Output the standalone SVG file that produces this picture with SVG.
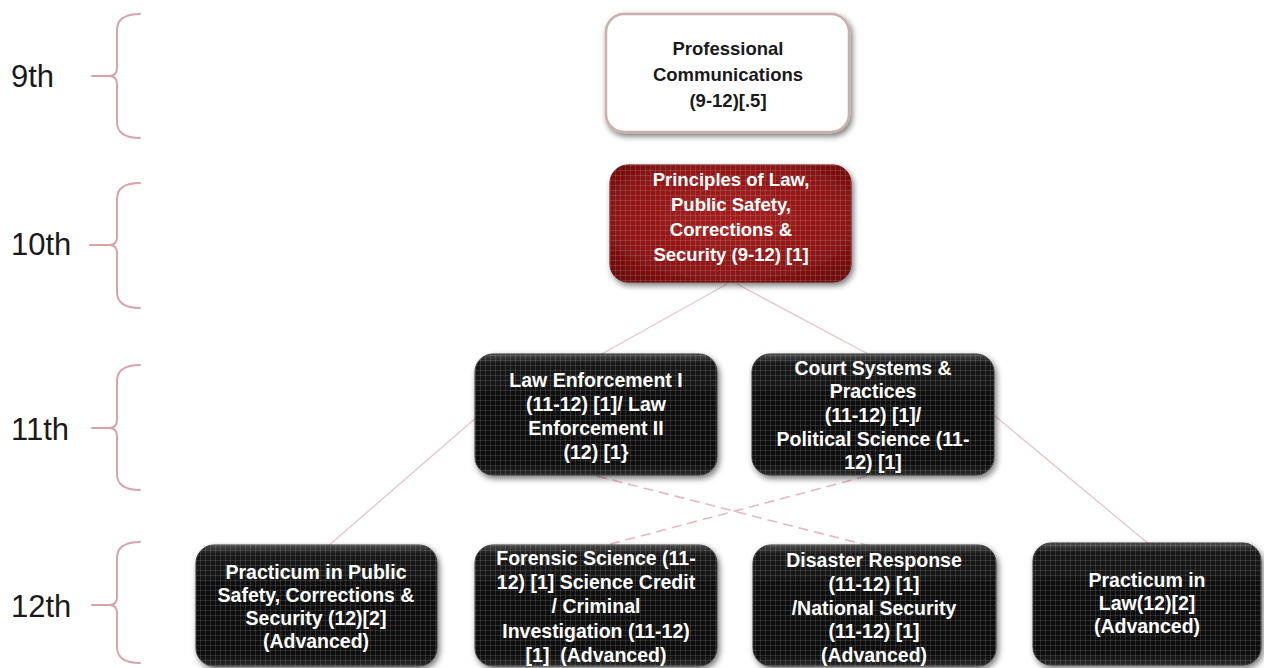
<svg xmlns="http://www.w3.org/2000/svg" width="1264" height="668" viewBox="0 0 1264 668">
<style>
.brace{fill:none;stroke:#d9a3aa;stroke-width:2;stroke-linecap:round;stroke-linejoin:round}
.grade{font-family:"Liberation Sans",Arial,sans-serif;font-size:31px;fill:#1a1a1a}
.conn{fill:none;stroke:#e4c9cc;stroke-width:1.4}
.dash{fill:none;stroke:#e6b8c0;stroke-width:1.6;stroke-dasharray:10 6}
.t{font-family:"Liberation Sans",Arial,sans-serif;font-weight:bold;text-anchor:middle;fill:#ffffff}
.tk{fill:#1a1a1a}
.dark{fill:url(#dg);stroke:#3a3a3a;stroke-width:1}
.tex{fill:url(#tex)}
</style>
<defs>
<filter id="sh" x="-10%" y="-10%" width="125%" height="130%">
<feGaussianBlur in="SourceAlpha" stdDeviation="3"/>
<feOffset dx="2" dy="3" result="b"/>
<feComponentTransfer><feFuncA type="linear" slope="0.55"/></feComponentTransfer>
<feMerge><feMergeNode/><feMergeNode in="SourceGraphic"/></feMerge>
</filter>
<linearGradient id="dg" x1="0" y1="0" x2="0" y2="1">
<stop offset="0" stop-color="#4a4a4a"/>
<stop offset="0.08" stop-color="#141414"/>
<stop offset="0.9" stop-color="#0a0a0a"/>
<stop offset="1" stop-color="#2a2a2a"/>
</linearGradient>
<radialGradient id="rg" cx="0.5" cy="0.45" r="0.65">
<stop offset="0" stop-color="#a31f1f"/>
<stop offset="0.7" stop-color="#8e1616"/>
<stop offset="1" stop-color="#6e0c0c"/>
</radialGradient>
<pattern id="tex" width="5" height="5" patternUnits="userSpaceOnUse">
<path d="M0 0.5H5M0.5 0V5" stroke="#ffffff" stroke-opacity="0.12" stroke-width="1"/>
</pattern>
</defs>

<g id="grades">
<text class="grade" x="11" y="87">9th</text>
<text class="grade" x="11" y="255">10th</text>
<text class="grade" x="11" y="440">11th</text>
<text class="grade" x="11" y="617">12th</text>
<path class="brace" d="M140 14 Q117 14 117 30 L117 68 Q117 76 109 76 L92 76 M109 76 Q117 76 117 84 L117 122 Q117 138 140 138"/>
<path class="brace" d="M140 183 Q117 183 117 199 L117 237 Q117 245 109 245 L90 245 M109 245 Q117 245 117 253 L117 292 Q117 308 140 308"/>
<path class="brace" d="M140 365 Q117 365 117 381 L117 420 Q117 428 109 428 L92 428 M109 428 Q117 428 117 436 L117 474 Q117 490 140 490"/>
<path class="brace" d="M140 542 Q117 542 117 558 L117 597 Q117 605 109 605 L92 605 M109 605 Q117 605 117 613 L117 647 Q117 663 140 663"/>
</g>

<g id="connectors">
<line class="conn" x1="727" y1="284" x2="600" y2="355"/>
<line class="conn" x1="737" y1="284" x2="870" y2="355"/>
<line class="conn" x1="478" y1="416" x2="327" y2="547"/>
<line class="conn" x1="995" y1="416" x2="1150" y2="545"/>
<line class="dash" x1="597" y1="476" x2="870" y2="546"/>
<line class="dash" x1="867" y1="476" x2="603" y2="546"/>
</g>

<g id="node-prof-comm">
<rect x="606" y="14" width="243" height="118" rx="18" fill="#ffffff" stroke="#c9aeb0" stroke-width="2.5" filter="url(#sh)"/>
<text class="t tk" font-size="18.5"><tspan x="728" y="55">Professional</tspan><tspan x="728" y="81">Communications</tspan><tspan x="728" y="107">(9-12)[.5]</tspan></text>
</g>

<g id="node-principles">
<rect x="610" y="165" width="241" height="117" rx="18" fill="url(#rg)" stroke="#6a0c0c" stroke-width="1" filter="url(#sh)"/>
<rect x="610" y="165" width="241" height="117" rx="18" class="tex"/>
<text class="t" font-size="18.5"><tspan x="731" y="186">Principles of Law,</tspan><tspan x="731" y="211">Public Safety,</tspan><tspan x="731" y="236">Corrections &amp;</tspan><tspan x="731" y="261">Security (9-12) [1]</tspan></text>
</g>

<g id="node-law-enf">
<rect x="475" y="354" width="242" height="121" rx="18" class="dark" filter="url(#sh)"/>
<rect x="475" y="354" width="242" height="121" rx="18" class="tex"/>
<text class="t" font-size="19.5"><tspan x="596" y="387">Law Enforcement I</tspan><tspan x="596" y="411">(11-12) [1]/ Law</tspan><tspan x="596" y="435">Enforcement II</tspan><tspan x="596" y="459">(12) [1}</tspan></text>
</g>

<g id="node-court">
<rect x="752" y="354" width="242" height="121" rx="18" class="dark" filter="url(#sh)"/>
<rect x="752" y="354" width="242" height="121" rx="18" class="tex"/>
<text class="t" font-size="19.5"><tspan x="873" y="375">Court Systems &amp;</tspan><tspan x="873" y="398">Practices</tspan><tspan x="873" y="422">(11-12) [1]/</tspan><tspan x="873" y="446">Political Science (11-</tspan><tspan x="873" y="469">12) [1]</tspan></text>
</g>

<g id="node-practicum-ps">
<rect x="196" y="545" width="241" height="121" rx="18" class="dark" filter="url(#sh)"/>
<rect x="196" y="545" width="241" height="121" rx="18" class="tex"/>
<text class="t" font-size="19.5"><tspan x="316" y="579">Practicum in Public</tspan><tspan x="316" y="602">Safety, Corrections &amp;</tspan><tspan x="316" y="625">Security (12)[2]</tspan><tspan x="316" y="648">(Advanced)</tspan></text>
</g>

<g id="node-forensic">
<rect x="475" y="545" width="242" height="121" rx="18" class="dark" filter="url(#sh)"/>
<rect x="475" y="545" width="242" height="121" rx="18" class="tex"/>
<text class="t" font-size="19.5"><tspan x="596" y="565">Forensic Science (11-</tspan><tspan x="596" y="589">12) [1] Science Credit</tspan><tspan x="596" y="613">/ Criminal</tspan><tspan x="596" y="638">Investigation (11-12)</tspan><tspan x="596" y="662">[1]&#160; (Advanced)</tspan></text>
</g>

<g id="node-disaster">
<rect x="753" y="545" width="243" height="121" rx="18" class="dark" filter="url(#sh)"/>
<rect x="753" y="545" width="243" height="121" rx="18" class="tex"/>
<text class="t" font-size="19.5"><tspan x="874" y="567">Disaster Response</tspan><tspan x="874" y="591">(11-12) [1]</tspan><tspan x="874" y="615">/National Security</tspan><tspan x="874" y="638">(11-12) [1]</tspan><tspan x="874" y="662">(Advanced)</tspan></text>
</g>

<g id="node-practicum-law">
<rect x="1033" y="543" width="228" height="122" rx="18" class="dark" filter="url(#sh)"/>
<rect x="1033" y="543" width="228" height="122" rx="18" class="tex"/>
<text class="t" font-size="19.5"><tspan x="1147" y="587">Practicum in</tspan><tspan x="1147" y="610">Law(12)[2]</tspan><tspan x="1147" y="633">(Advanced)</tspan></text>
</g>
</svg>
